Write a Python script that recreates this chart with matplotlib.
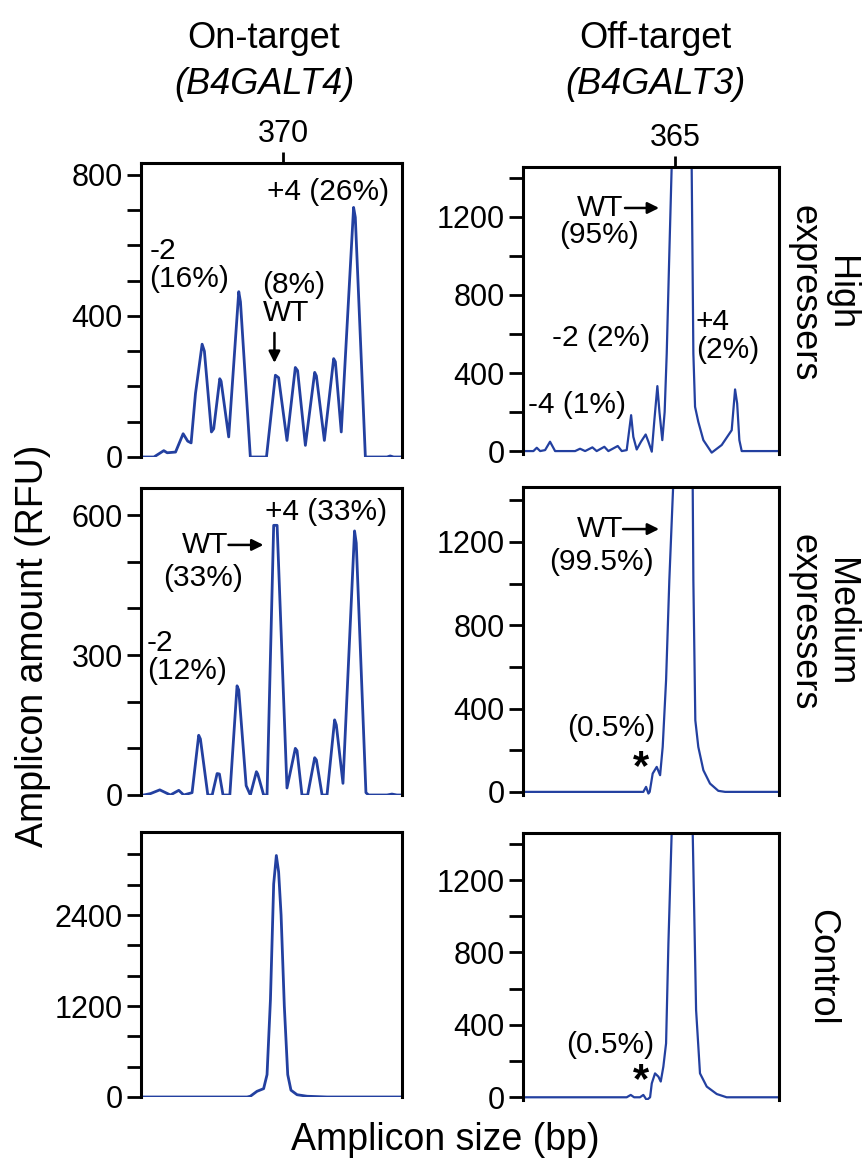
import matplotlib
matplotlib.use('Agg')
import matplotlib.pyplot as plt

plt.rcParams['font.family'] = ['Liberation Sans', 'DejaVu Sans']

TRACE = '#2340a0'
FIG_W, FIG_H = 864, 1167

# --- on-target (B4GALT4) electropherograms, size in bp vs RFU ---
high_on_bp = [362.51, 363.18, 363.70, 363.88, 364.32, 364.72, 364.96, 365.14, 365.37,
              365.72, 365.84, 366.21, 366.33, 366.65, 366.72, 367.12, 367.65, 367.74,
              368.26, 369.11, 369.58, 369.75, 370.19, 370.63, 370.75, 371.16, 371.65,
              371.74, 372.16, 372.65, 372.74, 373.05, 373.70, 373.79, 374.32, 375.46,
              375.63, 375.81, 376.25]
high_on_rfu = [0, 0, 18, 12, 14, 66, 45, 40, 180,
               320, 300, 71, 80, 222, 215, 57, 469, 440,
               0, 0, 232, 225, 47, 254, 245, 33, 240,
               230, 47, 279, 270, 71, 708, 680, 0, 0,
               3, 0, 0]

med_on_bp = [362.51, 362.65, 363.00, 363.49, 364.05, 364.49, 364.75, 365.19, 365.54,
             365.63, 366.02, 366.25, 366.51, 366.63, 366.82, 367.18, 367.56, 367.65,
             368.04, 368.26, 368.58, 368.65, 368.96, 369.14, 369.49, 369.67, 370.19,
             370.63, 370.72, 370.98, 371.28, 371.65, 371.74, 372.04, 372.30, 372.70,
             372.79, 373.14, 373.75, 373.84, 374.35, 374.49, 375.46, 375.72, 375.98,
             376.25]
med_on_rfu = [0, 0, 3, 11, 0, 10, 0, 5, 128,
              120, 0, 0, 46, 45, 0, 0, 234, 225,
              20, 0, 50, 45, 0, 0, 578, 578, 15,
              100, 95, 0, 0, 80, 75, 0, 0, 161,
              150, 25, 566, 540, 5, 0, 0, 2, 0,
              0]

ctrl_on_bp = [362.51, 368.09, 368.26, 368.61, 368.96, 369.14, 369.32, 369.49, 369.63,
              369.75, 369.88, 370.05, 370.23, 370.40, 370.72, 371.25, 372.30, 376.25]
ctrl_on_rfu = [0, 0, 10, 75, 110, 295, 1288, 2810, 3185,
               2970, 2400, 1200, 295, 90, 30, 10, 0, 0]

# --- off-target (B4GALT3); WT peak runs off scale ---
high_off_bp = [353.26, 354.10, 354.36, 354.62, 355.00, 355.38, 355.77, 357.31, 357.69,
               358.08, 358.64, 358.97, 359.56, 359.87, 360.59, 360.90, 361.28, 361.62,
               361.79, 362.05, 362.38, 362.74, 362.95, 363.21, 363.41, 363.64, 363.80,
               364.02, 364.20, 364.36, 364.56, 364.74, 365.50, 366.28, 366.41, 366.54,
               366.79, 367.18, 367.82, 368.59, 369.36, 369.62, 369.78, 369.95, 370.13,
               373.03]
high_off_rfu = [0, 0, 17, 0, 5, 48, 0, 0, 12,
                0, 19, 0, 22, 0, 26, 0, 5, 184,
                73, 8, 48, 85, 48, -3, 159, 333, 200,
                56, 200, 500, 1012, 1456, 4000, 1456, 500, 227,
                150, 56, -8, 31, 107, 316, 244, 56, 0,
                0]

med_off_bp = [353.26, 362.56, 362.77, 362.95, 363.05, 363.28, 363.59, 363.85, 364.05,
              364.31, 364.56, 364.85, 365.65, 366.36, 366.41, 366.56, 366.79, 367.18,
              367.69, 368.33, 368.85, 373.03]
med_off_rfu = [0, 0, 24, -8, 0, 88, 120, 80, 216,
               536, 1016, 1460, 4000, 1460, 1016, 344, 216, 104,
               40, 5, 0, 0]

ctrl_off_bp = [353.26, 361.28, 361.59, 361.85, 362.30, 362.56, 362.82, 363.08, 363.21,
               363.46, 363.72, 363.90, 364.10, 364.31, 364.49, 364.74, 365.55, 366.36,
               366.62, 366.92, 367.44, 368.21, 368.97, 373.03]
ctrl_off_rfu = [0, 0, 13, 0, 0, 13, -15, 0, 77,
                132, 114, 87, 169, 298, 850, 1460, 4000, 1460,
                482, 132, 59, 18, 0, 0]

on_xlim = (362.5, 376.25)
off_xlim = (353.3, 373.0)

TICK_FS = 22
ANN = 21.5


def add_axes(fig, left, top, right, bottom):
    """axes from pixel box (top-left origin)"""
    return fig.add_axes([left / FIG_W, 1 - bottom / FIG_H,
                         (right - left) / FIG_W, (bottom - top) / FIG_H])


def style(ax, xlim, ylim, yticks, ylabels, xtick=None):
    ax.set_xlim(*xlim)
    ax.set_ylim(*ylim)
    ax.spines['bottom'].set_visible(False)
    for s in ('left', 'top', 'right'):
        ax.spines[s].set_linewidth(2.2)
    ax.set_yticks(yticks, labels=ylabels)
    ax.tick_params(axis='y', direction='out', length=10, width=2.0,
                   labelsize=TICK_FS, pad=3)
    ax.xaxis.tick_top()
    if xtick is None:
        ax.set_xticks([])
    else:
        ax.set_xticks([xtick], labels=[str(xtick)])
        ax.tick_params(axis='x', direction='out', length=8, width=2.0,
                       labelsize=TICK_FS, pad=2)


fig = plt.figure(figsize=(FIG_W / 100, FIG_H / 100), dpi=100)

ax_hon = add_axes(fig, 141, 163, 402, 457)
ax_hoff = add_axes(fig, 523, 167, 779, 454)
ax_mon = add_axes(fig, 141, 488, 402, 795)
ax_moff = add_axes(fig, 523, 487, 779, 795)
ax_con = add_axes(fig, 141, 832, 402, 1097)
ax_coff = add_axes(fig, 523, 833, 779, 1100)

ax_hon.plot(high_on_bp, high_on_rfu, color=TRACE, lw=2.0)
ax_mon.plot(med_on_bp, med_on_rfu, color=TRACE, lw=2.0)
ax_con.plot(ctrl_on_bp, ctrl_on_rfu, color=TRACE, lw=2.0)
ax_hoff.plot(high_off_bp, high_off_rfu, color=TRACE, lw=1.6)
ax_moff.plot(med_off_bp, med_off_rfu, color=TRACE, lw=1.6)
ax_coff.plot(ctrl_off_bp, ctrl_off_rfu, color=TRACE, lw=1.6)

style(ax_hon, on_xlim, (0, 834), list(range(0, 801, 100)),
      ['0', '', '', '', '400', '', '', '', '800'], xtick=370)
style(ax_mon, on_xlim, (0, 658), list(range(0, 601, 100)),
      ['0', '', '', '300', '', '', '600'])
style(ax_con, on_xlim, (0, 3495), list(range(0, 3201, 400)),
      ['0', '', '', '1200', '', '', '2400', '', ''])
off_ticks = list(range(0, 1401, 200))
off_labels = ['0', '', '400', '', '800', '', '1200', '']
style(ax_hoff, off_xlim, (-15, 1456), off_ticks, off_labels, xtick=365)
style(ax_moff, off_xlim, (-15, 1464), off_ticks, off_labels)
style(ax_coff, off_xlim, (-15, 1460), off_ticks, off_labels)

arrow = dict(arrowstyle='-|>', color='black', lw=1.8, mutation_scale=17,
             shrinkA=0, shrinkB=0)

# on-target, high expressers
ax_hon.text(372.37, 752, '+4 (26%)', fontsize=ANN, ha='center', va='center')
ax_hon.text(362.95, 545, '-2\n(16%)', fontsize=ANN, ha='left', va='center',
            linespacing=1.0)
ax_hon.text(368.9, 448, '(8%)\nWT', fontsize=ANN, ha='left', va='center',
            linespacing=1.0)
ax_hon.annotate('', xy=(369.53, 267), xytext=(369.53, 352), arrowprops=arrow)

# off-target, high expressers
ax_hoff.text(359.23, 1246, 'WT', fontsize=ANN, ha='center', va='center')
ax_hoff.annotate('', xy=(363.77, 1246), xytext=(361.15, 1246), arrowprops=arrow)
ax_hoff.text(359.15, 1108, '(95%)', fontsize=ANN, ha='center', va='center')
ax_hoff.text(359.3, 579, '-2 (2%)', fontsize=ANN, ha='center', va='center')
ax_hoff.text(357.46, 236, '-4 (1%)', fontsize=ANN, ha='center', va='center')
ax_hoff.text(366.6, 590, '+4\n(2%)', fontsize=ANN, ha='left', va='center',
             linespacing=1.0)

# on-target, medium expressers
ax_mon.text(372.26, 606, '+4 (33%)', fontsize=ANN, ha='center', va='center')
ax_mon.text(365.89, 536, 'WT', fontsize=ANN, ha='center', va='center')
ax_mon.annotate('', xy=(368.95, 536), xytext=(367.11, 536), arrowprops=arrow)
ax_mon.text(365.79, 465, '(33%)', fontsize=ANN, ha='center', va='center')
ax_mon.text(362.8, 296, '-2\n(12%)', fontsize=ANN, ha='left', va='center',
            linespacing=1.0)

# off-target, medium expressers
ax_moff.text(359.23, 1262, 'WT', fontsize=ANN, ha='center', va='center')
ax_moff.annotate('', xy=(363.77, 1262), xytext=(361.0, 1262), arrowprops=arrow)
ax_moff.text(359.31, 1104, '(99.5%)', fontsize=ANN, ha='center', va='center')
ax_moff.text(360.08, 307, '(0.5%)', fontsize=ANN, ha='center', va='center')
ax_moff.text(362.38, 115, '*', fontsize=30, fontweight='bold',
             ha='center', va='center')

# off-target, control
ax_coff.text(360.0, 288, '(0.5%)', fontsize=ANN, ha='center', va='center')
ax_coff.text(362.38, 88, '*', fontsize=30, fontweight='bold',
             ha='center', va='center')

# column headers, row labels, shared axis labels
fig.text(264 / FIG_W, 1 - 38 / FIG_H, 'On-target', fontsize=26,
         ha='center', va='center')
fig.text(264 / FIG_W, 1 - 84 / FIG_H, '(B4GALT4)', fontsize=26,
         style='italic', ha='center', va='center')
fig.text(655 / FIG_W, 1 - 38 / FIG_H, 'Off-target', fontsize=26,
         ha='center', va='center')
fig.text(655 / FIG_W, 1 - 84 / FIG_H, '(B4GALT3)', fontsize=26,
         style='italic', ha='center', va='center')

for label, yc in (('High\nexpressers', 293), ('Medium\nexpressers', 622),
                  ('Control', 967)):
    fig.text(822 / FIG_W, 1 - yc / FIG_H, label, fontsize=26, rotation=270,
             ha='center', va='center', linespacing=1.05)

fig.text(445 / FIG_W, 1 - 1140 / FIG_H, 'Amplicon size (bp)', fontsize=27,
         ha='center', va='center')
fig.text(33 / FIG_W, 1 - 646 / FIG_H, 'Amplicon amount (RFU)', fontsize=27,
         rotation=90, ha='center', va='center')

fig.savefig('out.png', dpi=100)
